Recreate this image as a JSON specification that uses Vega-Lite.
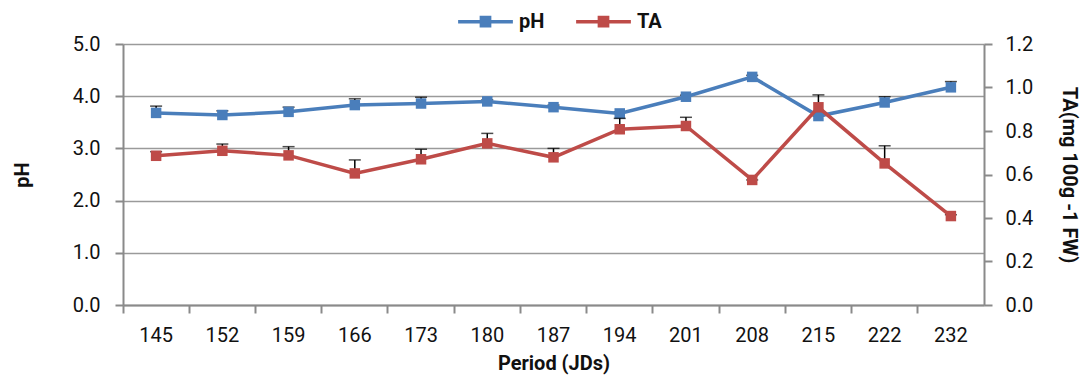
{
  "$schema": "https://vega.github.io/schema/vega-lite/v6.json",
  "width": 861,
  "height": 261,
  "autosize": {"type": "none"},
  "padding": {"left": 123, "top": 44, "right": 99, "bottom": 71},
  "background": "white",
  "data": {"values": [
    {"period": "145", "pH": 3.68, "pH_hi": 3.81, "TA": 0.686, "TA_hi": 0.705},
    {"period": "152", "pH": 3.64, "pH_hi": 3.72, "TA": 0.709, "TA_hi": 0.740},
    {"period": "159", "pH": 3.70, "pH_hi": 3.79, "TA": 0.688, "TA_hi": 0.728},
    {"period": "166", "pH": 3.83, "pH_hi": 3.95, "TA": 0.605, "TA_hi": 0.667},
    {"period": "173", "pH": 3.86, "pH_hi": 3.98, "TA": 0.670, "TA_hi": 0.716},
    {"period": "180", "pH": 3.90, "pH_hi": 3.93, "TA": 0.743, "TA_hi": 0.789},
    {"period": "187", "pH": 3.79, "pH_hi": 3.83, "TA": 0.679, "TA_hi": 0.720},
    {"period": "194", "pH": 3.67, "pH_hi": 3.70, "TA": 0.808, "TA_hi": 0.858},
    {"period": "201", "pH": 3.99, "pH_hi": 4.02, "TA": 0.823, "TA_hi": 0.863},
    {"period": "208", "pH": 4.37, "pH_hi": 4.40, "TA": 0.575, "TA_hi": 0.575},
    {"period": "215", "pH": 3.62, "pH_hi": 3.62, "TA": 0.909, "TA_hi": 0.966},
    {"period": "222", "pH": 3.88, "pH_hi": 3.99, "TA": 0.651, "TA_hi": 0.732},
    {"period": "232", "pH": 4.17, "pH_hi": 4.28, "TA": 0.409, "TA_hi": 0.415}
  ]},
  "encoding": {
    "x": {
      "field": "period", "type": "ordinal", "sort": null,
      "scale": {"paddingInner": 0, "paddingOuter": 0},
      "axis": {
        "title": "Period (JDs)", "labelAngle": 0, "bandPosition": 0,
        "tickSize": 8, "labelPadding": 12, "titlePadding": 8
      }
    }
  },
  "layer": [
    {
      "encoding": {
        "y": {"field": "pH", "type": "quantitative",
          "scale": {"domain": [0, 5]},
          "axis": {"orient": "left", "title": "pH", "format": ".1f", "values": [0, 1, 2, 3, 4, 5], "grid": true, "tickSize": 8, "labelPadding": 15, "titlePadding": 40}}
      },
      "layer": [
        {"mark": {"type": "rule", "color": "black", "strokeWidth": 1.5},
         "encoding": {"y2": {"field": "pH_hi"}}},
        {"mark": {"type": "tick", "color": "black", "thickness": 1.5, "size": 12},
         "encoding": {"y": {"field": "pH_hi", "type": "quantitative", "scale": {"domain": [0, 5]},
           "axis": {"orient": "left", "title": "pH", "format": ".1f", "values": [0, 1, 2, 3, 4, 5], "grid": true, "tickSize": 8, "labelPadding": 15, "titlePadding": 40}}}},
        {"mark": {"type": "line", "strokeWidth": 3.5, "point": {"shape": "square", "size": 110, "filled": true}},
         "encoding": {"color": {"datum": "pH", "type": "nominal"}}}
      ]
    },
    {
      "encoding": {
        "y": {"field": "TA", "type": "quantitative",
          "scale": {"domain": [0, 1.2]},
          "axis": {"orient": "right", "title": "TA(mg 100g -1 FW)", "format": ".1f", "values": [0, 0.2, 0.4, 0.6, 0.8, 1.0, 1.2], "grid": false, "tickSize": 8, "labelPadding": 13, "titlePadding": 26}}
      },
      "layer": [
        {"mark": {"type": "rule", "color": "black", "strokeWidth": 1.5},
         "encoding": {"y2": {"field": "TA_hi"}}},
        {"mark": {"type": "tick", "color": "black", "thickness": 1.5, "size": 12},
         "encoding": {"y": {"field": "TA_hi", "type": "quantitative", "scale": {"domain": [0, 1.2]},
           "axis": {"orient": "right", "title": "TA(mg 100g -1 FW)", "format": ".1f", "values": [0, 0.2, 0.4, 0.6, 0.8, 1.0, 1.2], "grid": false, "tickSize": 8, "labelPadding": 13, "titlePadding": 26}}}},
        {"mark": {"type": "line", "strokeWidth": 3.5, "point": {"shape": "square", "size": 110, "filled": true}},
         "encoding": {"color": {"datum": "TA", "type": "nominal",
           "scale": {"domain": ["pH", "TA"], "range": ["#4a7ebb", "#be4b48"]},
           "legend": {"orient": "none", "legendX": 333, "legendY": -52, "direction": "horizontal", "title": null}}}}
      ]
    }
  ],
  "resolve": {"scale": {"y": "independent"}},
  "config": {
    "view": {"stroke": null},
    "font": "Roboto",
    "axis": {
      "domainColor": "#8a8a8a", "domainWidth": 2, "tickColor": "#8a8a8a", "tickWidth": 2,
      "gridColor": "#9a9a9a", "gridWidth": 1.5,
      "labelFont": "Roboto", "labelFontSize": 20, "labelColor": "#111111",
      "titleFont": "Roboto", "titleFontSize": 20, "titleFontWeight": "bold", "titleColor": "#111111"
    },
    "legend": {
      "symbolType": "M-1,0H1M-0.15,-0.15H0.15V0.15H-0.15Z",
      "symbolSize": 3000, "symbolStrokeWidth": 3.5,
      "labelFont": "Roboto",
      "labelFontSize": 20, "labelFontWeight": "bold", "labelColor": "#111111",
      "columnPadding": 24, "labelOffset": 4
    }
  }
}
